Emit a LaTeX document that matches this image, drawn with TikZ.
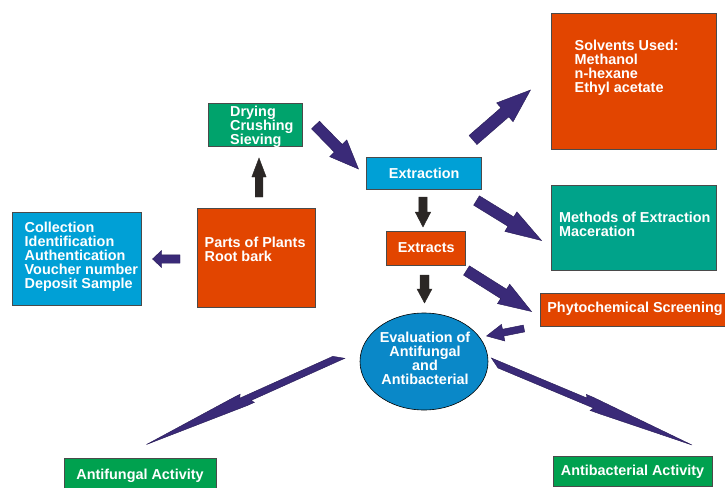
\documentclass[tikz,border=0pt]{standalone}
\usepackage{fontspec}
\setmainfont{Liberation Sans}
\usetikzlibrary{calc,shapes.geometric}
\definecolor{orng}{HTML}{E24500}
\definecolor{lblue}{HTML}{00A0D6}
\definecolor{dgreen}{HTML}{00A36C}
\definecolor{teal2}{HTML}{00A38A}
\definecolor{bgreen}{HTML}{00A14F}
\definecolor{eblue}{HTML}{0A88C8}
\definecolor{purp}{HTML}{3A2A78}
\definecolor{purpedge}{HTML}{261A55}
\definecolor{darkar}{HTML}{2B2725}
\definecolor{boxedge}{HTML}{4A4A4A}
% block arrow: style, from, to, shaft half width, head half width, head length
\newcommand{\blockarrow}[6]{%
  \filldraw[#1] ($(#2)!#4!90:(#3)$)
   -- ($(#3)!#6!(#2)!#4!-90:(#2)$)
   -- ($(#3)!#6!(#2)!#5!-90:(#2)$)
   -- (#3)
   -- ($(#3)!#6!(#2)!#5!90:(#2)$)
   -- ($(#3)!#6!(#2)!#4!90:(#2)$)
   -- ($(#2)!#4!-90:(#3)$) -- cycle;}
% thin zig-zag arrow: from, to
\newcommand{\zigarrow}[2]{%
  \filldraw[zig] ($(#1)!6pt!(#2)!4pt!-90:(#2)$)
   -- ($(#1)!0.51!(#2)!4pt!-90:(#2)$)
   -- ($(#1)!0.50!(#2)!7.5pt!-90:(#2)$)
   -- ($(#1)!0.545!(#2)!7pt!-90:(#2)$)
   -- (#2)
   -- ($(#1)!0.49!(#2)!5.8pt!90:(#2)$)
   -- ($(#1)!0.455!(#2)!5.8pt!90:(#2)$)
   -- ($(#1)!0.465!(#2)!2.7pt!90:(#2)$)
   -- ($(#1)!-4pt!(#2)!2.7pt!90:(#2)$) -- cycle;}
\begin{document}
\begin{tikzpicture}[x=1pt,y=-1pt,
  lbl/.style={font=\fontsize{14.4pt}{14pt}\selectfont\bfseries, text=white},
  box/.style={draw=boxedge, line width=0.6pt, inner sep=0pt, outer sep=0pt, lbl, text height=10pt, text depth=0pt},
  txt/.style={lbl, inner sep=0pt, align=left, anchor=north west},
  parr/.style={fill=purp, draw=purpedge, line width=0.4pt},
  karr/.style={fill=darkar, draw=darkar, line width=0.4pt},
  zig/.style={fill=purp, draw=purpedge, line width=0.4pt}]
\useasboundingbox (0,0) rectangle (725,487);
\clip (0,0) rectangle (725,487);

% boxes
\node[box, fill=lblue, minimum width=129pt, minimum height=93pt, anchor=north west] (coll) at (12,212) {};
\node[txt] (collT) at (24.5,222) {Collection\\Identification\\Authentication\\Voucher number\\Deposit Sample};

\node[box, fill=orng, minimum width=118pt, minimum height=99pt, anchor=north west] (parts) at (197,208) {};
\node[txt] (partsT) at (204.5,236.5) {Parts of Plants\\Root bark};

\node[box, fill=dgreen, minimum width=94pt, minimum height=43pt, anchor=north west] (dry) at (208,103) {};
\node[txt] (dryT) at (230,106) {Drying\\Crushing\\Sieving};

\node[box, fill=lblue, minimum width=115pt, minimum height=32pt] (extr) at (424.2,173.3) {Extraction};

\node[box, fill=orng, minimum width=79pt, minimum height=34pt] (extracts) at (426.2,247.8) {Extracts};

\node[box, fill=orng, minimum width=165pt, minimum height=136pt, anchor=north west] (solv) at (551,13) {};
\node[txt] (solvT) at (574.5,40) {Solvents Used:\\Methanol\\n-hexane\\Ethyl acetate};

\node[box, fill=teal2, minimum width=165pt, minimum height=85pt, anchor=north west] (meth) at (551,185) {};
\node[txt] (methT) at (559,211.5) {Methods of Extraction\\Maceration};

\node[box, fill=orng, minimum width=190pt, minimum height=33pt, anchor=north west, text depth=4pt] (phyto) at (540,293) {Phytochemical Screening};

\node[draw=black, line width=0.6pt, fill=eblue, ellipse, minimum width=128pt, minimum height=97pt, inner sep=0pt] (eval) at (424,361.5) {};
\node[lbl, align=center, inner sep=0pt, anchor=north] (evalT) at (425,331.5) {Evaluation of\\Antifungal\\and\\Antibacterial};

\node[box, fill=bgreen, minimum width=152pt, minimum height=32pt] (afung) at (140,474) {Antifungal Activity};
\node[box, fill=bgreen, minimum width=159pt, minimum height=30pt, text depth=2pt] (abact) at (632.5,471) {Antibacterial Activity};

% arrow end points
\coordinate (a1s) at (180,259);     \coordinate (a1e) at (152.5,259);
\coordinate (a2s) at (259,197);     \coordinate (a2e) at (259,158);
\coordinate (a3s) at (315.5,125);   \coordinate (a3e) at (358.5,169);
\coordinate (a4s) at (473,140);     \coordinate (a4e) at (530.5,90);
\coordinate (a5s) at (423,197);     \coordinate (a5e) at (423,227);
\coordinate (a6s) at (476.5,200.5); \coordinate (a6e) at (541.5,240.5);
\coordinate (a7s) at (424.5,275);   \coordinate (a7e) at (424.5,303);
\coordinate (a8s) at (466.5,270.5); \coordinate (a8e) at (531.5,311.5);
\coordinate (a9s) at (524,328.5);   \coordinate (a9e) at (486.5,336);
\coordinate (z1s) at (340,357.5);   \coordinate (z1e) at (146.5,444.5);
\coordinate (z2s) at (494,362);     \coordinate (z2e) at (692,445);

\blockarrow{parr}{a1s}{a1e}{4.2pt}{8.5pt}{9pt}
\blockarrow{karr}{a2s}{a2e}{3.8pt}{7.2pt}{19pt}
\blockarrow{parr}{a3s}{a3e}{5.5pt}{12pt}{29pt}
\blockarrow{parr}{a4s}{a4e}{6pt}{12.5pt}{34pt}
\blockarrow{karr}{a5s}{a5e}{4.2pt}{7.8pt}{15pt}
\blockarrow{parr}{a6s}{a6e}{5.5pt}{11.5pt}{36pt}
\blockarrow{karr}{a7s}{a7e}{4.5pt}{7.5pt}{14pt}
\blockarrow{parr}{a8s}{a8e}{5.5pt}{11.5pt}{33pt}
\blockarrow{parr}{a9s}{a9e}{3.5pt}{8.5pt}{17pt}

\zigarrow{z1s}{z1e}
\zigarrow{z2s}{z2e}
\end{tikzpicture}
\end{document}
